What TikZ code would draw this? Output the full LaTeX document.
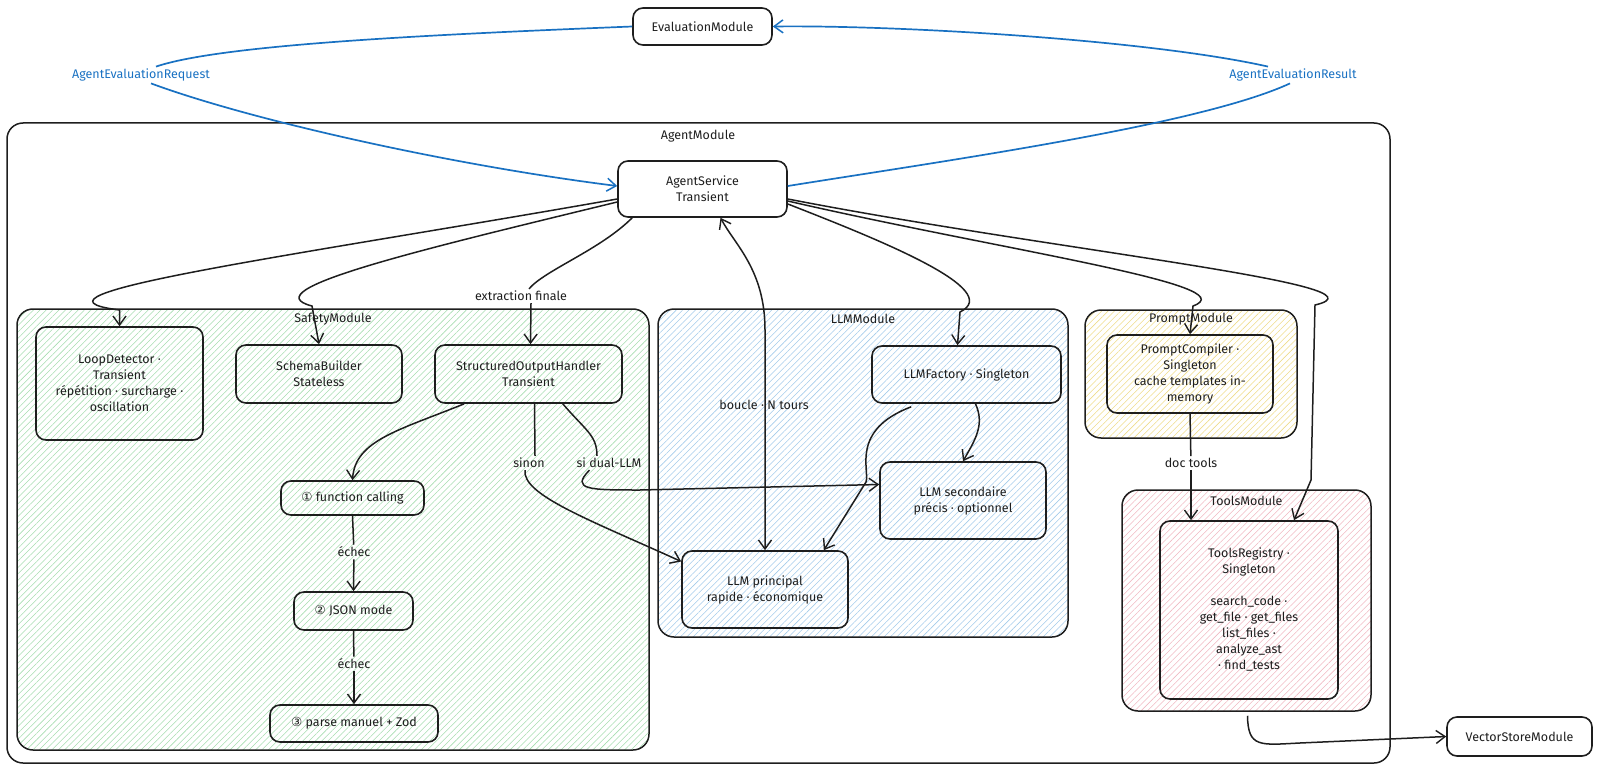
\documentclass[tikz,border=0pt]{standalone}
\usepackage{fontspec}
\setmainfont{Fira Sans}
\newfontfamily\symf{DejaVu Sans}
\usetikzlibrary{arrows.meta,patterns.meta,calc}
\definecolor{ink}{HTML}{1E1E1E}
\definecolor{evblue}{HTML}{1971C2}
\definecolor{hgreen}{HTML}{A6DDB0}
\definecolor{hblue}{HTML}{A3CBEA}
\definecolor{hyellow}{HTML}{EEDC8A}
\definecolor{hpink}{HTML}{F0B8C2}
\begin{document}
\begin{tikzpicture}[x=1pt,y=-1pt,
  every node/.style={font=\fontsize{12.5}{16}\selectfont, text=ink},
  box/.style={draw=ink, line width=1.6pt, rounded corners=10pt, align=center, inner sep=0pt},
  cont/.style={draw=ink, line width=1.5pt, rounded corners=16pt, inner sep=0pt},
  hatch/.style={pattern={Lines[angle=45,distance=4.5pt,line width=0.55pt]}, pattern color=#1},
  lbl/.style={inner sep=2pt, align=center},
  ln/.style={draw=ink, line width=1.5pt},
  arr/.style={draw=ink, line width=1.5pt, -{Straight Barb[length=9pt,width=13pt,line width=1.4pt]}},
  darr/.style={draw=ink, line width=1.5pt, {Straight Barb[length=9pt,width=13pt,line width=1.4pt]}-{Straight Barb[length=9pt,width=13pt,line width=1.4pt]}},
  bln/.style={draw=evblue, line width=1.7pt},
  barr/.style={draw=evblue, line width=1.7pt, -{Straight Barb[length=9pt,width=13pt,line width=1.5pt]}},
]
\useasboundingbox (0,0) rectangle (1600,770);

% containers
\node[cont, minimum width=1383pt, minimum height=640pt] (agent) at (698.5,443) {};
\node (agentT) at (698,136) {AgentModule};
\node[cont, hatch=hgreen, minimum width=632pt, minimum height=441pt] (safety) at (333,529.5) {};
\node (safetyT) at (333,319) {SafetyModule};
\node[cont, hatch=hblue, minimum width=410pt, minimum height=328pt] (llmmod) at (863,473) {};
\node (llmmodT) at (863,319) {LLMModule};
\node[cont, hatch=hyellow, minimum width=212pt, minimum height=128pt] (prompt) at (1191,374) {};
\node (promptT) at (1191,319) {PromptModule};
\node[cont, hatch=hpink, minimum width=249pt, minimum height=221pt] (tools) at (1246.5,600.5) {};
\node (toolsT) at (1246.5,501) {ToolsModule};

% nodes
\node[box, minimum width=139pt, minimum height=37pt] (eval) at (702.5,26.5) {EvaluationModule};
\node[box, minimum width=169pt, minimum height=56pt] (as) at (702.5,189) {AgentService\\Transient};
\node[box, minimum width=167pt, minimum height=113pt] (loop) at (119.5,383.5) {LoopDetector ·\\Transient\\répétition · surcharge ·\\oscillation};
\node[box, minimum width=166pt, minimum height=58pt] (schema) at (319,374) {SchemaBuilder\\Stateless};
\node[box, minimum width=187pt, minimum height=58pt] (soh) at (528.5,374) {StructuredOutputHandler\\Transient};
\node[box, minimum width=143pt, minimum height=34pt] (fc) at (352.5,498) {{\symf ①} function calling};
\node[box, minimum width=119pt, minimum height=38pt] (json) at (353.5,611) {{\symf ②} JSON mode};
\node[box, minimum width=168pt, minimum height=37pt] (parse) at (354,723.5) {{\symf ③} parse manuel + Zod};
\node[box, minimum width=189pt, minimum height=57pt] (llmf) at (966.5,374.5) {LLMFactory · Singleton};
\node[box, minimum width=166pt, minimum height=77pt] (llms) at (963,500.5) {LLM secondaire\\précis · optionnel};
\node[box, minimum width=166pt, minimum height=77pt] (llmp) at (765,589.5) {LLM principal\\rapide · économique};
\node[box, minimum width=166pt, minimum height=78pt] (pc) at (1190,374) {PromptCompiler ·\\Singleton\\cache templates in-\\memory};
\node[box, minimum width=178pt, minimum height=178pt] (tr) at (1249,610) {ToolsRegistry ·\\Singleton\\[16pt]search\_code ·\\get\_file · get\_files\\list\_files ·\\analyze\_ast\\· find\_tests};
\node[box, minimum width=145pt, minimum height=39pt] (vs) at (1519.5,736.5) {VectorStoreModule};

% labels
\node[lbl, text=evblue] (req) at (141,75) {AgentEvaluationRequest};
\node[lbl, text=evblue] (res) at (1293,75) {AgentEvaluationResult};
\node[lbl] (ef) at (521,296) {extraction finale};
\node[lbl] (boucle) at (764,405) {boucle · N tours};
\node[lbl] (e1) at (354,552) {échec};
\node[lbl] (e2) at (354,664) {échec};
\node[lbl] (s1) at (529,463) {sinon};
\node[lbl] (s2) at (609,463) {si dual-LLM};
\node[lbl] (dt) at (1191,463) {doc tools};

% blue edges
\draw[bln] (eval.west) .. controls (420,35) and (220,45) .. ($(req.north)+(15,0)$);
\draw[barr] ($(req.south)+(10,0)$) .. controls (250,120) and (450,165) .. ($(as.west)+(0,-3)$);
\draw[bln] ($(as.east)+(0,-3)$) .. controls (950,160) and (1200,125) .. ($(res.south)+(-3,0)$);
\draw[barr] ($(res.north)+(-25,0)$) .. controls (1150,40) and (900,25) .. (eval.east);

% black edges from AgentService
\draw[arr] ($(as.west)+(0,10)$) .. controls (300,255) and (0,295) .. (119.5,310) -- (loop.north);
\draw[arr] ($(as.west)+(0,13)$) .. controls (420,250) and (250,290) .. (312,306) -- (schema.north);
\draw[ln] ($(as.south west)+(15,0)$) .. controls (600,250) and (545,270) .. ($(ef.north)+(8,0)$);
\draw[arr] ($(ef.south)+(10,0)$) -- ($(soh.north)+(2,0)$);
\draw[darr] (llmp.north) -- (765,330) .. controls (765,270) and (735,245) .. ($(as.south)+(18,0)$);
\draw[arr] ($(as.east)+(0,15)$) .. controls (880,240) and (1005,290) .. (960,312) -- ($(llmf.north)+(-9,0)$);
\draw[arr] ($(as.east)+(0,12)$) .. controls (1000,250) and (1250,285) .. (1193,306) -- (pc.north);
\draw[arr] ($(as.east)+(0,10)$) .. controls (1050,250) and (1400,285) .. (1315,305) -- (1311,480) -- ($(tr.north)+(45,0)$);

% safety internals
\draw[arr] ($(soh.south west)+(30,0)$) .. controls (400,430) and (355,440) .. (fc.north);
\draw[ln] (fc.south) -- (e1);
\draw[arr] (e1) -- (json.north);
\draw[ln] (json.south) -- (e2);
\draw[arr] (e2) -- (parse.north);
\draw[ln] ($(soh.south)+(6,0)$) -- ($(s1.north)+(6,0)$);
\draw[arr] ($(s1.south)+(-4,0)$) .. controls (522,495) and (590,520) .. ($(llmp.west)+(0,-28)$);
\draw[ln] ($(soh.south east)+(-60,0)$) .. controls (585,430) and (597,435) .. ($(s2.north)+(-12,0)$);
\draw[arr] ($(s2.south west)+(15,0)$) .. controls (570,490) and (590,490) .. (640,490) -- ($(llms.west)+(0,-16)$);

% LLM internals
\draw[arr] ($(llmf.south west)+(40,3)$) .. controls (850,430) and (870,470) .. (866,482) -- ($(llmp.north east)+(-25,0)$);
\draw[arr] ($(llmf.south)+(9,0)$) .. controls (985,425) and (975,440) .. (llms.north);

% prompt / tools
\draw[ln] (pc.south) -- (dt);
\draw[arr] (dt) -- (tr.north -| dt);
\draw[arr] ($(tools.south)+(1,4)$) .. controls (1248,748) and (1260,745) .. (1300,743) -- (vs.west);
\end{tikzpicture}
\end{document}
